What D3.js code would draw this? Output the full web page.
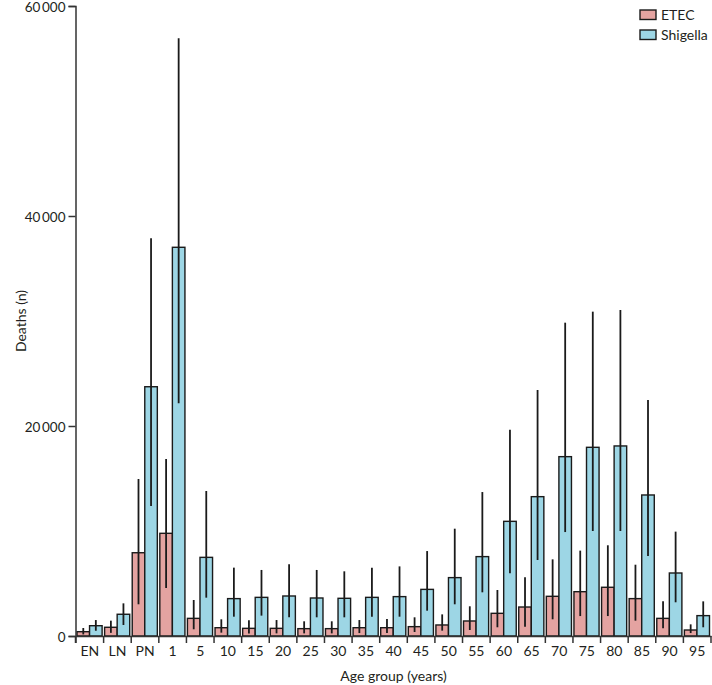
<!DOCTYPE html>
<html><head><meta charset="utf-8">
<script src="https://cdn.jsdelivr.net/npm/d3@7/dist/d3.min.js"></script>
<style>
body{margin:0;background:#fff;}
text{font-family:Lato,"Open Sans",sans-serif;fill:#231f20;}
</style></head>
<body><svg id="c" width="712" height="685"></svg>
<script>
const categories = ["EN","LN","PN","1","5","10","15","20","25","30","35","40","45","50","55","60","65","70","75","80","85","90","95"];
const seriesNames = ["ETEC","Shigella"];
const etec      = [410, 830, 7930, 9780, 1680, 790, 730, 730, 700, 700, 790, 790, 890, 1050, 1430, 2160, 2760, 3780, 4220, 4640, 3560, 1680, 570];
const etecLow   = [150, 300, 3020, 4570, 640, 320, 250, 250, 250, 250, 280, 280, 380, 510, 570, 830, 890, 1590, 1900, 1900, 1460, 730, 280];
const etecHigh  = [760, 1460, 14950, 16860, 3430, 1590, 1490, 1520, 1400, 1400, 1520, 1620, 1780, 2060, 2830, 4380, 5590, 7300, 8130, 8640, 6790, 3300, 1110];
const shig      = [980, 2070, 23740, 37020, 7490, 3560, 3680, 3810, 3620, 3590, 3680, 3750, 4440, 5560, 7560, 10920, 13270, 17080, 17970, 18100, 13430, 6000, 1940];
const shigLow   = [500, 1050, 12380, 22160, 3650, 1840, 1940, 1780, 1780, 1780, 1840, 1840, 2410, 3020, 4160, 5970, 7240, 9900, 10000, 10000, 7620, 3210, 830];
const shigHigh  = [1520, 3110, 37870, 56920, 13810, 6510, 6290, 6830, 6290, 6160, 6510, 6630, 8090, 10220, 13710, 19650, 23430, 29840, 30890, 31050, 22480, 9940, 3300];
const yTicks = [0, 20000, 40000, 60000];
const colors = ["#e4a3a1", "#9dd6e5"];

const svg = d3.select("#c");
const x = d3.scaleBand().domain(categories).range([76, 711]).paddingInner(0).paddingOuter(0);
const xs = d3.scaleBand().domain(seriesNames).range([1, x.bandwidth() - 1.5]);
const y = d3.scaleLinear().domain([0, 60000]).range([636, 6]);
const fmt = v => d3.format(",")(v).replace(/,/g, "\u2009");

const series = [
  {name:"ETEC", v:etec, lo:etecLow, hi:etecHigh, c:colors[0]},
  {name:"Shigella", v:shig, lo:shigLow, hi:shigHigh, c:colors[1]}
];

// bars
series.forEach(s => {
  const g = svg.append("g");
  g.selectAll("rect").data(categories).join("rect")
    .attr("x", (d) => x(d) + xs(s.name))
    .attr("y", (d,i) => y(s.v[i]))
    .attr("width", xs.bandwidth())
    .attr("height", (d,i) => y(0) - y(s.v[i]))
    .attr("fill", s.c).attr("stroke", "#1a1a1a").attr("stroke-width", 1.4);
});
// error bars
series.forEach(s => {
  svg.append("g").selectAll("line").data(categories).join("line")
    .attr("x1", d => x(d) + xs(s.name) + xs.bandwidth()/2)
    .attr("x2", d => x(d) + xs(s.name) + xs.bandwidth()/2)
    .attr("y1", (d,i) => y(s.lo[i]))
    .attr("y2", (d,i) => y(s.hi[i]))
    .attr("stroke", "#1a1a1a").attr("stroke-width", 1.8);
});

// y axis
const ya = svg.append("g").attr("transform", "translate(75.5,0)")
  .call(d3.axisLeft(y).tickValues(yTicks).tickFormat(fmt).tickSizeOuter(0).tickSize(7).tickPadding(3));
ya.select(".domain").attr("stroke", "#333").attr("stroke-width", 1.5);
ya.selectAll(".tick line").attr("stroke", "#333").attr("stroke-width", 1.5);
ya.selectAll(".tick text").style("font-size", "13.5px").style("font-family", "Lato,sans-serif")
  .attr("fill", "#231f20").attr("dy", "0.42em");
svg.append("line").attr("x1", 75.5).attr("x2", 75.5).attr("y1", 636).attr("y2", 643)
  .attr("stroke", "#333").attr("stroke-width", 1.5);

// x axis
const xa = svg.append("g").attr("transform", "translate(0,636)")
  .call(d3.axisBottom(x).tickSize(0).tickSizeOuter(0).tickPadding(10));
xa.select(".domain").attr("stroke", "#333").attr("stroke-width", 1.5);
xa.selectAll(".tick text").style("font-size", "14px").style("font-family", "Lato,sans-serif").attr("fill", "#231f20");
const bounds = categories.map(d => x(d)).concat([x.range()[1]]);
svg.append("g").selectAll("line").data(bounds).join("line")
  .attr("x1", d => d).attr("x2", d => d).attr("y1", 636).attr("y2", 643)
  .attr("stroke", "#333").attr("stroke-width", 1.5);

// titles
svg.append("text").attr("x", (x.range()[0] + x.range()[1]) / 2).attr("y", 681)
  .attr("text-anchor", "middle").style("font-size", "14px").text("Age group (years)");
svg.append("text").attr("transform", "translate(26,321) rotate(-90)")
  .attr("text-anchor", "middle").style("font-size", "14px").text("Deaths (n)");

// legend
const lg = svg.append("g").attr("transform", "translate(640,10)");
series.forEach((s, i) => {
  lg.append("rect").attr("x", 0).attr("y", i * 20).attr("width", 16).attr("height", 9.5)
    .attr("fill", s.c).attr("stroke", "#1a1a1a").attr("stroke-width", 1.4);
  lg.append("text").attr("x", 21).attr("y", i * 20 + 10).style("font-size", "14px").text(s.name);
});
</script></body></html>
